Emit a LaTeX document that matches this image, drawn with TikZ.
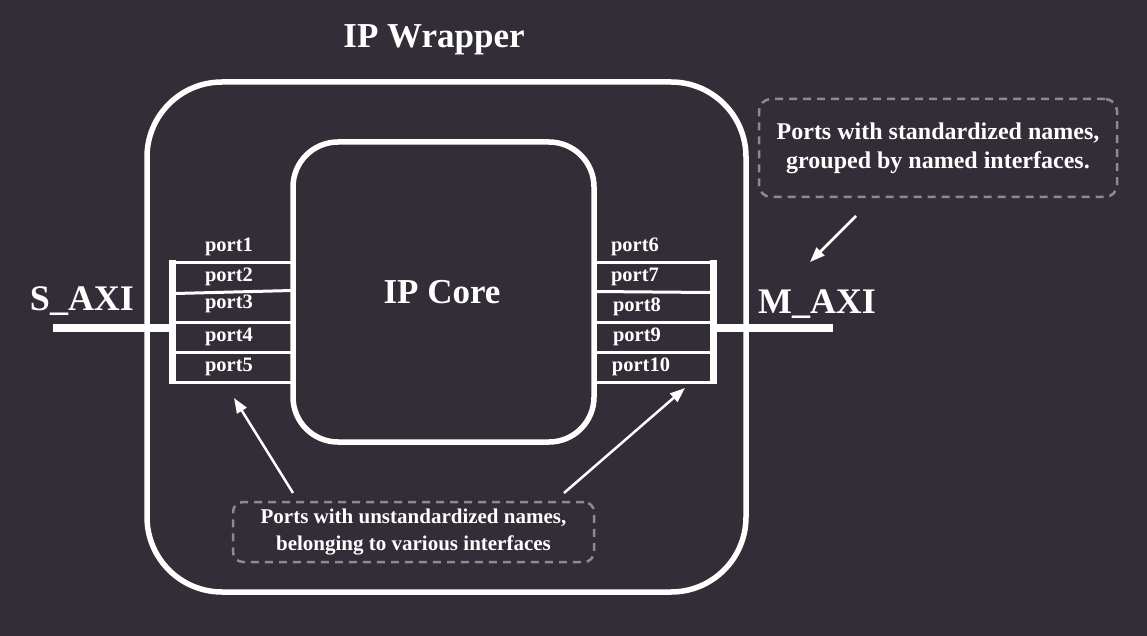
\documentclass[tikz,border=0pt]{standalone}
\usepackage{fontspec}
\setmainfont{Liberation Serif}
\usetikzlibrary{arrows.meta}
\definecolor{bg}{RGB}{50,45,54}
\definecolor{dashgray}{RGB}{142,138,144}
\begin{document}
\begin{tikzpicture}[x=1pt,y=-1pt,
  wire/.style={draw=white,line width=3pt},
  bar/.style={draw=white,line width=7pt},
  bus/.style={draw=white,line width=8pt},
  lbl/.style={text=white,font=\bfseries\fontsize{20.5}{24}\selectfont,inner sep=0pt},
  big/.style={text=white,font=\bfseries\fontsize{35}{42}\selectfont,inner sep=0pt},
  box/.style={draw=white,line width=5.5pt},
  note/.style={draw=dashgray,line width=2.5pt,dash pattern=on 8pt off 6pt,text=white,align=center,inner sep=0pt},
  arr/.style={draw=white,line width=2.5pt,-{Triangle[length=15pt,width=11pt]}}]
\fill[bg] (0,0) rectangle (1147,636);
\useasboundingbox (0,0) rectangle (1147,636);
% wrapper and core
\node[box,rounded corners=75pt,minimum width=599pt,minimum height=510pt] (wrap) at (446.5,337) {};
\node[box,rounded corners=45pt,minimum width=301pt,minimum height=300pt] (core) at (443.5,292) {};
\node[big] (title) at (434,40) {IP Wrapper};
\node[big] (corelbl) at (442,292) {IP Core};
\node[big,font=\bfseries\fontsize{36}{42}\selectfont] (saxi) at (82,301) {S\_AXI};
\node[big,font=\bfseries\fontsize{36}{42}\selectfont] (maxi) at (817,304) {M\_AXI};
% left interface
\coordinate (sL) at (53,328);
\coordinate (sB) at (172,328);
\coordinate (lbT) at (172,260);
\coordinate (lbB) at (172,384);
\draw[bus] (sL) -- (sB);
\draw[bar] (lbT) -- (lbB);
\coordinate (l1a) at (175,262); \coordinate (l1b) at (292,262);
\coordinate (l2a) at (175,293.5); \coordinate (l2b) at (292,290.5);
\coordinate (l3a) at (175,322); \coordinate (l3b) at (292,322);
\coordinate (l4a) at (175,352); \coordinate (l4b) at (292,352);
\coordinate (l5a) at (175,382); \coordinate (l5b) at (292,382);
\foreach \i in {1,...,5} {\draw[wire] (l\i a) -- (l\i b);}
\node[lbl] (p1) at (229,247) {port1};
\node[lbl] (p2) at (229,277) {port2};
\node[lbl] (p3) at (229,304) {port3};
\node[lbl] (p4) at (229,337) {port4};
\node[lbl] (p5) at (229,367) {port5};
% right interface
\coordinate (mR) at (833,328);
\coordinate (mB) at (713,328);
\coordinate (rbT) at (713,260);
\coordinate (rbB) at (713,384);
\draw[bus] (mB) -- (mR);
\draw[bar] (rbT) -- (rbB);
\coordinate (r1a) at (595,262); \coordinate (r1b) at (710,262);
\coordinate (r2a) at (595,291.5); \coordinate (r2b) at (710,292.5);
\coordinate (r3a) at (595,322); \coordinate (r3b) at (710,322);
\coordinate (r4a) at (595,352); \coordinate (r4b) at (710,352);
\coordinate (r5a) at (595,382); \coordinate (r5b) at (710,382);
\foreach \i in {1,...,5} {\draw[wire] (r\i a) -- (r\i b);}
\node[lbl] (p6) at (635,247) {port6};
\node[lbl] (p7) at (635,277) {port7};
\node[lbl] (p8) at (637,307) {port8};
\node[lbl] (p9) at (637,337) {port9};
\node[lbl] (p10) at (641,367) {port10};
% notes
\node[note,rounded corners=12pt,minimum width=358pt,minimum height=98pt,font=\bfseries\fontsize{24}{29}\selectfont] (n1) at (938,148) {Ports with standardized names,\\grouped by named interfaces.};
\node[note,rounded corners=10pt,minimum width=361pt,minimum height=60pt,font=\bfseries\fontsize{21}{27}\selectfont] (n2) at (413.5,532) {Ports with unstandardized names,\\belonging to various interfaces};
% arrows
\coordinate (a1s) at (856,216); \coordinate (a1e) at (810,262);
\coordinate (a2s) at (293,493); \coordinate (a2e) at (234,398);
\coordinate (a3s) at (564,493); \coordinate (a3e) at (685,388);
\draw[arr] (a1s) -- (a1e);
\draw[arr] (a2s) -- (a2e);
\draw[arr] (a3s) -- (a3e);
\end{tikzpicture}
\end{document}
